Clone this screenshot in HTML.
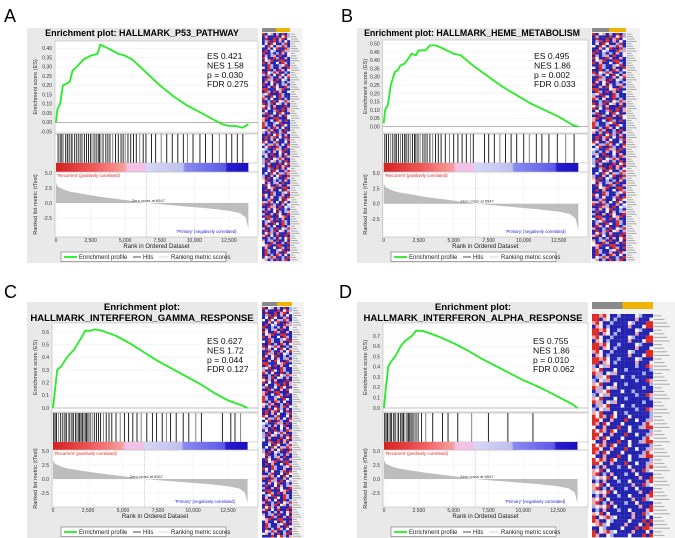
<!DOCTYPE html>
<html><head><meta charset="utf-8"><style>
html,body{margin:0;padding:0;background:#fff}
svg{display:block}
text{font-family:"Liberation Sans",sans-serif}
</style></head><body>
<svg id="fig" width="675" height="538" viewBox="0 0 675 538" xmlns="http://www.w3.org/2000/svg"></svg>
<script>
// ---------- data ----------
const esRanksA=[0,100,300,500,800,1000,1200,1500,2000,2500,3000,3200,3500,4000,4500,5000,5500,6500,7500,8500,9500,10500,11500,12000,12500,13000,13500,13900];
const esValsA=[0,0.07,0.1,0.2,0.21,0.22,0.28,0.3,0.34,0.36,0.37,0.42,0.41,0.39,0.37,0.36,0.34,0.27,0.2,0.14,0.09,0.05,0.01,-0.01,-0.02,-0.02,-0.03,-0.01];
const esRanksB=[0,100,300,500,800,1000,1200,1500,2000,2300,2500,3000,3300,3700,4000,4500,5000,5500,6500,7500,8500,9500,10500,11500,12500,13500,13900];
const esValsB=[0.02,0.1,0.13,0.25,0.33,0.34,0.37,0.38,0.44,0.43,0.46,0.46,0.49,0.49,0.48,0.46,0.44,0.43,0.36,0.3,0.24,0.19,0.14,0.1,0.06,0.01,0.0];
const esRanksC=[0,100,300,600,1000,1500,2000,2300,2700,3000,3500,4500,5500,6500,7500,8500,9500,10500,11500,12500,13500,13900];
const esValsC=[0,0.1,0.3,0.33,0.4,0.46,0.55,0.61,0.61,0.62,0.61,0.57,0.51,0.44,0.37,0.31,0.25,0.19,0.12,0.06,0.02,0];
const esRanksD=[0,100,300,500,800,1200,1500,2000,2300,2700,3000,4000,5000,6000,7000,8000,9000,10000,10700,11500,12500,13500,13900];
const esValsD=[0,0.15,0.4,0.45,0.5,0.6,0.65,0.7,0.75,0.75,0.74,0.69,0.63,0.56,0.48,0.41,0.34,0.27,0.23,0.18,0.11,0.04,0];
const hitsA=[150,300,420,520,700,820,950,1100,1200,1350,1500,1650,1800,1900,2050,2200,2350,2500,2600,2750,2900,3050,3150,3250,3400,3600,3750,3900,4100,4300,4500,4700,4850,5000,5200,5400,5600,5800,6050,6300,6500,6900,7200,7600,8000,8400,8800,9200,9500,9900,10400,10800,11300,11800,12300,12700,13100,13500];
const hitsB=[80,200,350,500,650,800,900,1050,1200,1350,1500,1600,1750,1900,2050,2200,2300,2450,2600,2800,2950,3100,3300,3500,3700,3900,4100,4400,4700,5000,5300,5600,5900,6200,6400,7200,7500,7900,8300,8700,9100,9500,10000,10400,10900,11300,11800,12400,13000,13600];
const hitsC=[50,150,250,400,550,700,850,950,1100,1200,1350,1450,1600,1700,1800,1900,2000,2100,2200,2300,2400,2500,2650,2800,2950,3100,3250,3400,3600,3800,4000,4200,4500,4800,5100,5400,5700,6000,6300,6700,7100,7400,7800,8100,8400,8800,9300,9700,10200,10600,12100,12700,13000,13400];
const hitsD=[50,150,250,350,450,550,700,800,950,1050,1200,1300,1400,1500,1650,1750,1850,1950,2050,2150,2300,2450,2700,3000,3500,4200,4600,5300,6300,7500,8900,10700];
const metricRanks=[0,150,500,1000,2000,3000,4000,5000,6547,8000,9500,11000,12500,13300,13700,13900];
const metricVals=[3.3,2.7,2.3,1.9,1.5,1.1,0.8,0.5,0,-0.3,-0.6,-0.9,-1.3,-1.7,-2.4,-4.3];
const statsA=['ES 0.421','NES 1.58','p = 0.030','FDR 0.275'];
const statsB=['ES 0.495','NES 1.86','p = 0.002','FDR 0.033'];
const statsC=['ES 0.627','NES 1.72','p = 0.044','FDR 0.127'];
const statsD=['ES 0.755','NES 1.86','p = 0.010','FDR 0.062'];
const xTicks=[0,2500,5000,7500,10000,12500];
const xTickLabels=['0','2,500','5,000','7,500','10,000','12,500'];
const mTicks=[5,2.5,0,-2.5];
const mTickLabels=['5.0','2.5','0.0','-2.5'];
// heatmap row patterns (r=red,p=pink,w=white,l=light blue,b=blue)
const heatRows=['rbwpblbrbl','plrlbwbrwb','rwbbrlbbpb','brpbwbbrbl','lrbrbpbwbb','bpbwrbblbl','brlbblwrbb','wrlbpbbbrb','pbwrbbrlbb','rbbbwprbbr','wlrpbblbrb','rbbwbrwbbl','lpbrbbwbpb','brwbrlbbpb','rbprbwbrbb','pbrbwlbbrl','bwbrlbrbpb'];
const heatRowsD=['rrprwbblbbbbwlbbb','rplbwlpbbbbbbblbb','rwrpbrwbbbwbbbbbl','prblbpbbblbbwbbbb','rbwprlwbbbbpbbbwb','lrpwbrbbwbbblbbbb','rplwlrbbbrbwbbblb','wrrbpwblbbbbbpbbb','bblpwrbbbwbblbbbb','prrwbbpbbbrbbwbbl','rlwpwrbwbbbbbbpbb','rrpbbwlbbbbwbbbrb','lrrwblbbwbbbbbbbb','rpbrwbbblbbpbwbbb'];
// ---------- drawing ----------
const NS='http://www.w3.org/2000/svg';
const svg=document.getElementById('fig');
function el(tag,attrs,parent,txt){const e=document.createElementNS(NS,tag);for(const k in attrs)e.setAttribute(k,attrs[k]);if(txt!==undefined)e.textContent=txt;(parent||svg).appendChild(e);return e;}
const cellCol={r:'#de2a25',p:'#f2a4a6',w:'#f4f0f4',l:'#a9b3ea',b:'#2323b0'};

function panel(c){
  const g=el('g',{});
  
  
  const L=el('text',{x:c.letter[0],y:c.letter[1],'font-size':18},g,c.letterText);
  
  
  const bg=el('rect',{x:c.box[0],y:c.box[1],width:c.box[2],height:c.box[3],fill:'#e9e9e9'},g);
  
  
  const xs=r=>c.x0+r*c.xk;
  const ys=v=>c.es0+ (v)*(-c.esK);
  const ms=v=>c.m0+ v*(-c.mK);
  c.titles.forEach((t,i)=>{const T=el('text',{x:c.tx,y:c.ty[i],'font-size':c.tfs||9.6,'font-weight':'bold','text-anchor':'middle'},g,t);
    });
  const fx=c.x0-1,fw=c.fr-fx;
  el('rect',{x:fx,y:c.esTop,width:fw,height:c.esBot-c.esTop,fill:'#fff',stroke:'#bbb','stroke-width':0.6},g);
  c.esTicks.forEach(v=>{const y=ys(v);el('line',{x1:fx,x2:c.fr,y1:y,y2:y,stroke:'#eee','stroke-width':0.5},g);
    el('text',{x:fx-3,y:y+1.8,'font-size':5,'text-anchor':'end',fill:'#333'},g,c.esDec1?v.toFixed(1):v.toFixed(2));});
  el('line',{x1:fx,x2:c.fr,y1:ys(0),y2:ys(0),stroke:'#888','stroke-width':0.6},g);
  const yt=el('text',{transform:`translate(${c.box[0]+10},${(c.esTop+c.esBot)/2}) rotate(-90)`,'font-size':5.5,'text-anchor':'middle',fill:'#333'},g,'Enrichment score (ES)');
  
  const pts=c.esR.map((r,i)=>xs(r).toFixed(1)+','+ys(c.esV[i]).toFixed(1)).join(' ');
  const pl=el('polyline',{points:pts,fill:'none',stroke:'#22ee22','stroke-width':1.8,'stroke-linejoin':'round'},g);
  
  c.stats.forEach((s,i)=>{const S=el('text',{x:c.sx,y:c.sy+i*9.4,'font-size':8.6,fill:'#111'},g,s);
    });
  el('rect',{x:fx,y:c.hTop,width:fw,height:c.hBot-c.hTop,fill:'#fff',stroke:'#bbb','stroke-width':0.6},g);
  c.hits.forEach((h,i)=>{const ln=el('line',{x1:xs(h),x2:xs(h),y1:c.hTop,y2:c.hBot,stroke:i%5==3?'#777':'#111','stroke-width':0.9},g);
    });
  const gid='cb'+c.letterText;
  const gr=el('linearGradient',{id:gid,x1:0,x2:1,y1:0,y2:0},el('defs',{},g));
  [[0,'#d72020'],[0.2,'#f05a5a'],[0.36,'#f8a0a0'],[0.37,'#f3c0e6'],[0.46,'#f3c0e6'],[0.47,'#d6d6f6'],[0.66,'#c0c0f0'],[0.67,'#8a8af0'],[0.88,'#5a5ae8'],[0.89,'#2a1ad0'],[1,'#1a10c0']].forEach(s=>el('stop',{offset:s[0],'stop-color':s[1]},gr));
  el('rect',{x:fx,y:c.hBot,width:fw,height:c.cbH,fill:'#fff',stroke:'#bbb','stroke-width':0.5},g);
  const cb=el('rect',{x:xs(0),y:c.hBot,width:xs(13900)-xs(0),height:c.cbH,fill:`url(#${gid})`},g);
  
  const rt=c.hBot+c.cbH;
  el('rect',{x:fx,y:rt,width:fw,height:c.rBot-rt,fill:'#fff',stroke:'#bbb','stroke-width':0.6},g);
  xTicks.forEach(t=>el('line',{x1:xs(t),x2:xs(t),y1:rt,y2:c.rBot,stroke:'#eee','stroke-width':0.5},g));
  mTicks.forEach((v,i)=>{const y=ms(v);el('line',{x1:fx,x2:c.fr,y1:y,y2:y,stroke:'#eee','stroke-width':0.5},g);
    el('text',{x:fx-3,y:y+1.8,'font-size':5,'text-anchor':'end',fill:'#333'},g,mTickLabels[i]);});
  let ap='M'+xs(0)+','+ms(0)+' '+metricRanks.map((r,i)=>'L'+xs(r).toFixed(1)+','+ms(metricVals[i]).toFixed(1)).join(' ')+' L'+xs(13900)+','+ms(0)+'Z';
  const ar=el('path',{d:ap,fill:'#bdbdbd'},g);
  
  el('line',{x1:xs(6547),x2:xs(6547),y1:rt,y2:c.rBot,stroke:'#999','stroke-width':0.5,'stroke-dasharray':'1,1'},g);
  el('text',{x:xs(6547)-15,y:ms(0)-1,'font-size':4,fill:'#333'},g,'Zero cross at 6547');
  el('text',{x:xs(100),y:rt+5,'font-size':4.3,fill:'#e02020'},g,"'Recurrent' (positively correlated)");
  el('text',{x:xs(8700),y:c.rBot-4,'font-size':4.3,fill:'#2020e0'},g,"'Primary' (negatively correlated)");
  const mt=el('text',{transform:`translate(${c.box[0]+10},${(rt+c.rBot)/2}) rotate(-90)`,'font-size':5.5,'text-anchor':'middle',fill:'#333'},g,'Ranked list metric (tTest)');
  
  xTicks.forEach((t,i)=>el('text',{x:xs(t),y:c.rBot+5,'font-size':5,'text-anchor':'middle',fill:'#333'},g,xTickLabels[i]));
  const xt=el('text',{x:(fx+c.fr)/2,y:c.rBot+11,'font-size':6,'text-anchor':'middle',fill:'#222'},g,'Rank in Ordered Dataset');
  
  const lx=c.legX,ly=c.legY;
  const lg=el('g',{},g);
  
  el('rect',{x:lx,y:ly,width:165,height:9.5,fill:'#fff',stroke:'#555','stroke-width':0.5},lg);
  el('line',{x1:lx+3,x2:lx+16,y1:ly+5,y2:ly+5,stroke:'#22ee22','stroke-width':1.8},lg);
  el('text',{x:lx+18,y:ly+7,'font-size':6,fill:'#222'},lg,'Enrichment profile');
  el('line',{x1:lx+72,x2:lx+80,y1:ly+5,y2:ly+5,stroke:'#222','stroke-width':0.8},lg);
  el('text',{x:lx+82,y:ly+7,'font-size':6,fill:'#222'},lg,'Hits');
  el('line',{x1:lx+98,x2:lx+108,y1:ly+5,y2:ly+5,stroke:'#ccc','stroke-width':0.8},lg);
  el('text',{x:lx+110,y:ly+7,'font-size':6,fill:'#222'},lg,'Ranking metric scores');
  const h=c.heat, hg=el('g',{},g);
  
  el('rect',{x:h.x,y:h.y,width:h.w+h.lw,height:h.h,fill:'#f2f2f2'},hg);
  el('rect',{x:h.x,y:h.y,width:h.w/2,height:h.hh,fill:'#8a8a8a'},hg);
  el('rect',{x:h.x+h.w/2,y:h.y,width:h.w/2,height:h.hh,fill:'#f0b400'},hg);
  const rows=h.rows, cw=h.w/rows[0].length;
  const top=h.y+h.hh+h.gap, n=Math.floor((h.y+h.h-top)/h.ch);
  for(let r=0;r<n;r++){const pat=rows[(r*7+Math.floor(r/rows.length))%rows.length];
    const sh=h.shift?(r*3)%pat.length:((r*5)%4);
    for(let k=0;k<pat.length;k++){const ch=pat[(k+sh)%pat.length];
      el('rect',{x:(h.x+k*cw).toFixed(2),y:(top+r*h.ch).toFixed(2),width:(cw+0.1).toFixed(2),height:h.ch+0.1,fill:cellCol[ch]},hg);}
    el('line',{x1:h.x+h.w+1,x2:h.x+h.w+h.lw*0.4+ (r%4)*h.lw*0.12,y1:top+r*h.ch+h.ch/2,y2:top+r*h.ch+h.ch/2,stroke:'#aaa','stroke-width':Math.min(1,h.ch*0.5)},hg);
  }
}
panel({name:'panel-a',letterText:'A',letter:[4,22],box:[27,28,231,235],titles:['Enrichment plot: HALLMARK_P53_PATHWAY'],tx:142,ty:[36],tfs:9,
  x0:56,xk:(229-56)/12500,fr:258,esTop:41,esBot:133,es0:122.3,esK:185,esTicks:[-0.05,0,0.05,0.1,0.15,0.2,0.25,0.3,0.35,0.4],
  esR:esRanksA,esV:esValsA,stats:statsA,sx:207,sy:59,hTop:134,hBot:163,cbH:9,rBot:237,m0:203,mK:6,hits:hitsA,legX:61,legY:252,
  heat:{x:262,y:28,w:28,lw:12,h:235,hh:4,gap:1,ch:2.4,rows:heatRows,shift:true}});
panel({name:'panel-b',letterText:'B',letter:[341,22],box:[357,28,234,235],titles:['Enrichment plot: HALLMARK_HEME_METABOLISM'],tx:472,ty:[36],tfs:8.8,
  x0:383.7,xk:(558.7-383.7)/12500,fr:588,esTop:40,esBot:133,es0:126.7,esK:166,esTicks:[0,0.05,0.1,0.15,0.2,0.25,0.3,0.35,0.4,0.45,0.5],
  esR:esRanksB,esV:esValsB,stats:statsB,sx:534,sy:59,hTop:134,hBot:163,cbH:9,rBot:237,m0:203.7,mK:6.1,hits:hitsB,legX:391,legY:252,
  heat:{x:592,y:28,w:34,lw:14,h:235,hh:4,gap:1,ch:2.4,rows:heatRows,shift:true}});
panel({name:'panel-c',letterText:'C',letter:[4,298],box:[27,302,231,236],titles:['Enrichment plot:','HALLMARK_INTERFERON_GAMMA_RESPONSE'],tx:142,ty:[310,321],
  x0:53,xk:(228-53)/12500,fr:258,esTop:323,esBot:412,es0:408,esK:126.7,esTicks:[0,0.1,0.2,0.3,0.4,0.5,0.6],esDec1:true,
  esR:esRanksC,esV:esValsC,stats:statsC,sx:207,sy:344,hTop:413,hBot:442,cbH:8,rBot:507,m0:479,mK:5.6,hits:hitsC,legX:61,legY:527,
  heat:{x:262,y:302,w:30,lw:12,h:236,hh:4,gap:1,ch:2.4,rows:heatRows,shift:true}});
panel({name:'panel-d',letterText:'D',letter:[339,298],box:[357,302,231,236],titles:['Enrichment plot:','HALLMARK_INTERFERON_ALPHA_RESPONSE'],tx:473,ty:[310,321],
  x0:384,xk:(558-384)/12500,fr:588,esTop:323,esBot:412,es0:408,esK:102.9,esTicks:[0,0.1,0.2,0.3,0.4,0.5,0.6,0.7],esDec1:true,
  esR:esRanksD,esV:esValsD,stats:statsD,sx:533,sy:344,hTop:413,hBot:442,cbH:8,rBot:507,m0:479,mK:5.6,hits:hitsD,legX:391,legY:527,
  heat:{x:592,y:302,w:61,lw:22,h:236,hh:7,gap:5,ch:3.6,rows:heatRowsD}});
</script>
</body></html>
